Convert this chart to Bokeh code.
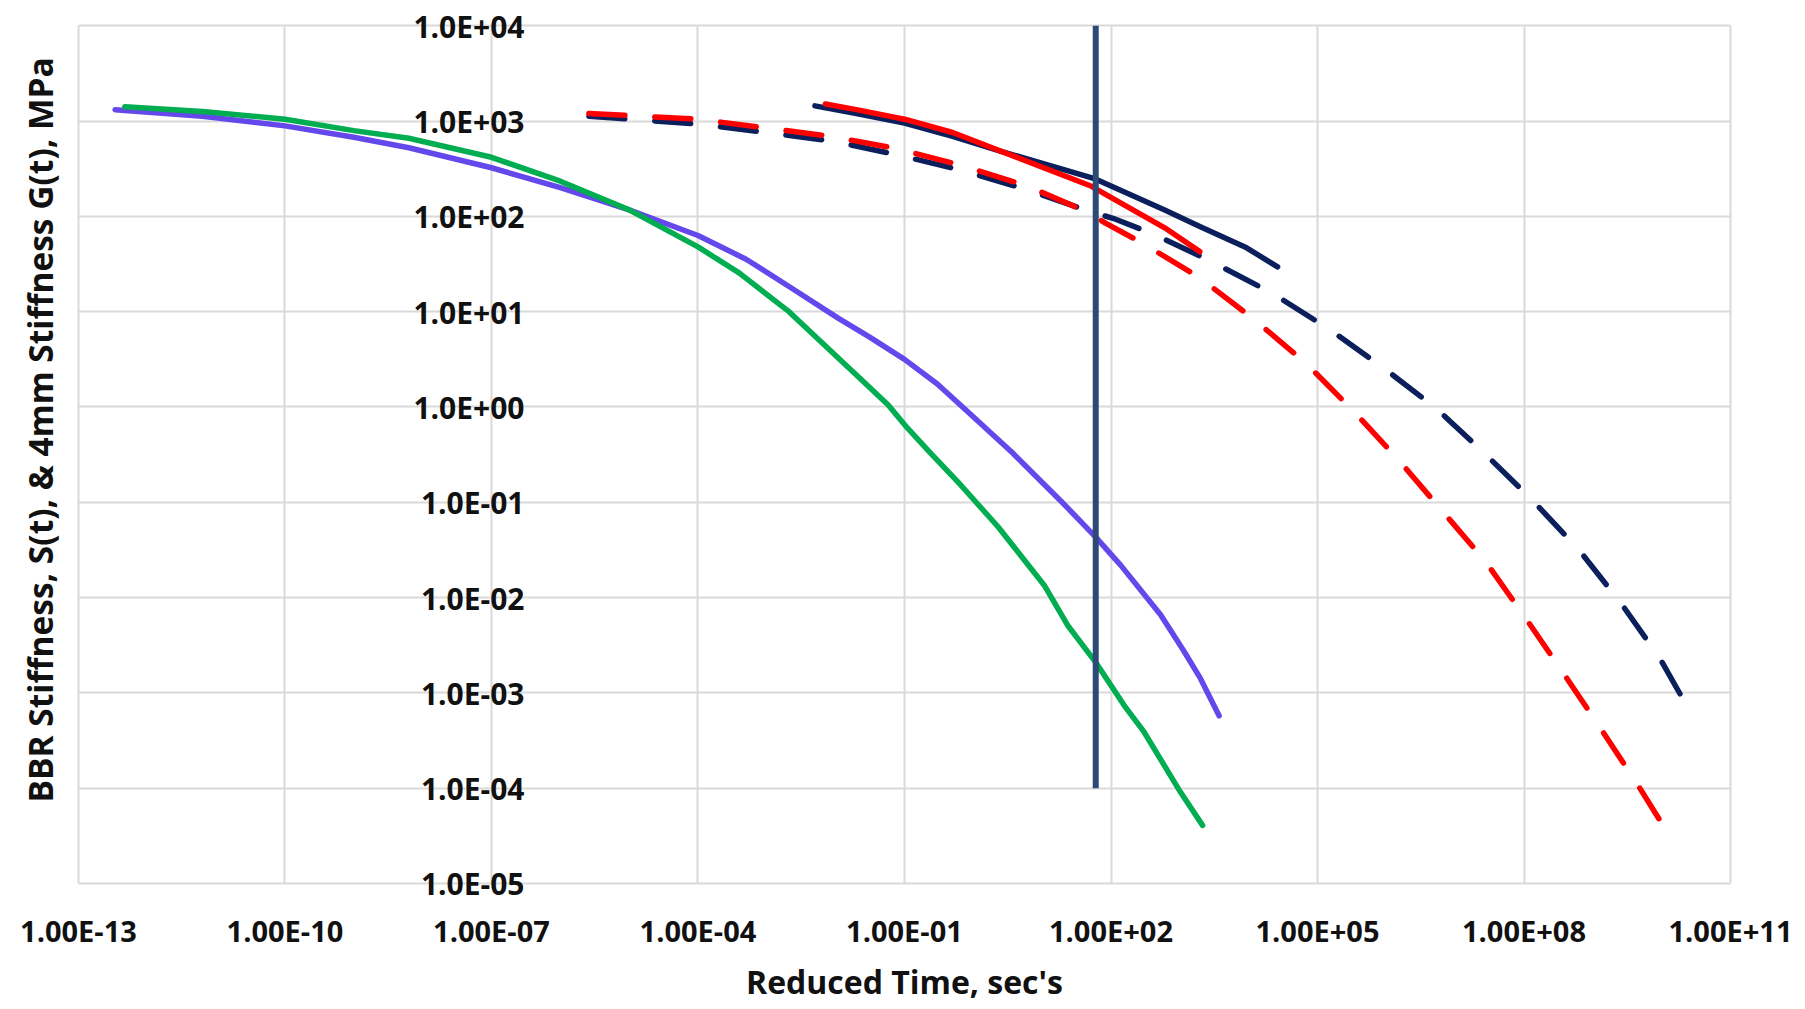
from bokeh.plotting import figure
from bokeh.models import (Range1d, FixedTicker, CustomJSTickFormatter, LabelSet, Title,
                          ColumnDataSource)
from bokeh.core.properties import value
from bokeh.embed import file_html
from bokeh.resources import INLINE

# ---------------- data ----------------
x_ticks = [1e-13, 1e-10, 1e-7, 1e-4, 1e-1, 1e2, 1e5, 1e8, 1e11]
x_tick_labels = ["1.00E-13", "1.00E-10", "1.00E-07", "1.00E-04", "1.00E-01",
                 "1.00E+02", "1.00E+05", "1.00E+08", "1.00E+11"]
y_ticks = [1e4, 1e3, 1e2, 1e1, 1e0, 1e-1, 1e-2, 1e-3, 1e-4, 1e-5]
y_tick_labels = ["1.0E+04", "1.0E+03", "1.0E+02", "1.0E+01", "1.0E+00",
                 "1.0E-01", "1.0E-02", "1.0E-03", "1.0E-04", "1.0E-05"]
y_axis_cross = 1e-7
x_min, x_max = 1e-13, 1e11
y_min, y_max = 1e-5, 1e4

# BBR stiffness S(t) (purple)
purple_t = [3.4e-13, 6.3e-12, 1e-10, 1e-9, 6.3e-9, 1e-7, 1e-6, 1e-5, 1e-4, 5.0e-4,
            2.1e-3, 1.1e-2, 3.16e-2, 0.1, 0.30, 0.83, 3.7, 19, 59, 138, 525, 1120, 2000, 3720]
purple_s = [1318, 1122, 891, 676, 525, 324, 200, 117, 63.1, 35.5,
            18.4, 8.5, 5.37, 3.16, 1.74, 0.89, 0.331, 0.102, 0.0437, 0.0219, 0.0066,
            0.00282, 0.00141, 0.000575]

# BBR stiffness S(t) (green)
green_t = [4.7e-13, 6.3e-12, 1e-10, 1e-9, 6.3e-9, 1e-7, 1e-6, 1e-5, 1e-4, 4.0e-4,
           2.1e-3, 1.1e-2, 2.5e-2, 5.8e-2, 0.11, 0.23, 0.66, 2.3, 10.7, 23.4, 60, 155, 302,
           1020, 2140]
green_s = [1413, 1259, 1047, 794, 661, 417, 234, 117, 47.9, 25.4,
           10.0, 3.24, 1.86, 1.05, 0.603, 0.339, 0.151, 0.055, 0.0135, 0.00513, 0.00209,
           0.000741, 0.000389, 9.1e-5, 4.07e-5]

# 4mm G(t) measured (navy solid)
navy_t = [5.0e-3, 2.0e-2, 0.1, 0.5, 2.6, 56, 603, 1950, 9330, 26300]
navy_g = [1445, 1202, 955, 692, 479, 251, 117, 78.5, 46.8, 29.5]

# 4mm G(t) measured (red solid)
red_t = [7.1e-3, 2.0e-2, 0.1, 0.5, 2.6, 52, 603, 1950]
red_g = [1514, 1318, 1047, 759, 479, 207, 75.9, 42.7]

# 4mm G(t) model (navy dashed)
navy_fit_t = [2.6e-6, 1e-4, 9.1e-3, 8.5e-2, 0.71, 6.0, 50, 107, 427, 2820, 22400,
              1.45e5, 9.5e5, 5.4e6, 2.7e7, 1.38e8, 6.3e8, 2.57e9, 9.3e9, 2.8e10]
navy_fit_g = [1122, 933, 617, 437, 302, 191, 112, 95.5, 64.6, 33.9, 15.5,
              6.61, 2.51, 0.955, 0.324, 0.102, 0.0316, 0.0087, 0.00234, 0.000575]

# 4mm G(t) model (red dashed)
red_fit_t = [2.6e-6, 1e-4, 8.5e-3, 7.8e-2, 0.71, 6.0, 47, 83, 302, 2000, 1.2e4,
             6.8e4, 3.2e5, 1.48e6, 6.3e6, 2.75e7, 1.02e8, 3.55e8, 1.26e9, 4.27e9, 1.2e10]
red_fit_g = [1202, 1047, 692, 513, 339, 209, 110, 85.1, 51.3, 22.4, 8.3,
             2.88, 0.933, 0.282, 0.0832, 0.024, 0.0063, 0.0017, 0.000437, 0.000115, 3.47e-5]

# 60 s reference line
ref_t = [60, 60]
ref_y = [1e-4, 1e4]

# ---------------- figure ----------------
FONT = "Open Sans"
INK = "#111111"
GRID = "#D9D9D9"

# frame is padded a little beyond the plotted area so edge tick labels are not clipped
xpad_dec = 0.029
ytop_dec, ybot_dec = 0.213, 0.189
p = figure(width=1805, height=1009, x_axis_type="log", y_axis_type="log",
           x_range=Range1d(x_min / 10 ** xpad_dec, x_max * 10 ** xpad_dec),
           y_range=Range1d(y_min / 10 ** ybot_dec, y_max * 10 ** ytop_dec),
           output_backend="svg", toolbar_location=None,
           min_border_left=73, min_border_right=73, min_border_top=5, min_border_bottom=108)
p.outline_line_color = None
p.background_fill_color = "white"
p.border_fill_color = "white"

p.xaxis.ticker = FixedTicker(ticks=x_ticks, minor_ticks=[])
p.yaxis.ticker = FixedTicker(ticks=y_ticks, minor_ticks=[])
p.xgrid.grid_line_color = GRID
p.ygrid.grid_line_color = GRID
p.xgrid.grid_line_width = 2
p.ygrid.grid_line_width = 2
p.xgrid.cross_bounds = (y_min, y_max)
p.ygrid.cross_bounds = (x_min, x_max)

p.xaxis.formatter = CustomJSTickFormatter(args=dict(labels=x_tick_labels),
                                          code="return labels[index];")
p.xaxis.axis_line_color = None
p.xaxis.major_tick_line_color = None
p.xaxis.minor_tick_line_color = None
p.xaxis.major_tick_out = 0
p.xaxis.major_tick_in = 0
p.xaxis.minor_tick_out = 0
p.xaxis.major_label_text_font = FONT
p.xaxis.major_label_text_font_style = "bold"
p.xaxis.major_label_text_font_size = "29px"
p.xaxis.major_label_text_color = INK
p.xaxis.major_label_standoff = 9
p.xaxis.axis_label = "Reduced Time, sec's"
p.xaxis.axis_label_text_font = FONT
p.xaxis.axis_label_text_font_style = "bold"
p.xaxis.axis_label_text_font_size = "32px"
p.xaxis.axis_label_text_color = INK
p.xaxis.axis_label_standoff = 7

p.yaxis.visible = False

# y title (side title, shifted up like the original)
p.add_layout(Title(text="BBR  Stiffness, S(t), & 4mm Stiffness G(t), MPa",
                   align="left", offset=99, standoff=28,
                   text_font=FONT, text_font_style="bold", text_font_size="33.5px",
                   text_color=INK), "left")

# y tick labels placed at the axis crossing
ysrc = ColumnDataSource(dict(x=[y_axis_cross] * len(y_ticks), y=y_ticks, text=y_tick_labels))
p.add_layout(LabelSet(x="x", y="y", text="text", source=ysrc, x_offset=33, y_offset=-12,
                      text_align="right", text_baseline="alphabetic",
                      text_font=value(FONT), text_font_style="bold", text_font_size="30px",
                      text_color=INK))

W = 5.5
DASH = "36 30"
p.line(purple_t, purple_s, line_color="#6448EC", line_width=W, line_cap="round", line_join="round")
p.line(green_t, green_s, line_color="#00AD50", line_width=W, line_cap="round", line_join="round")
p.line(navy_fit_t, navy_fit_g, line_color="#0A1F5C", line_width=W, line_dash=DASH,
       line_cap="round", line_join="round")
p.line(red_fit_t, red_fit_g, line_color="#FF0000", line_width=W, line_dash=DASH,
       line_cap="round", line_join="round")
p.line(navy_t, navy_g, line_color="#0A1F5C", line_width=W, line_cap="round", line_join="round")
p.line(red_t, red_g, line_color="#FF0000", line_width=W, line_cap="round", line_join="round")
p.line(ref_t, ref_y, line_color="#2B4A76", line_width=6, line_cap="butt")

open("out.html", "w").write(file_html(p, INLINE))
